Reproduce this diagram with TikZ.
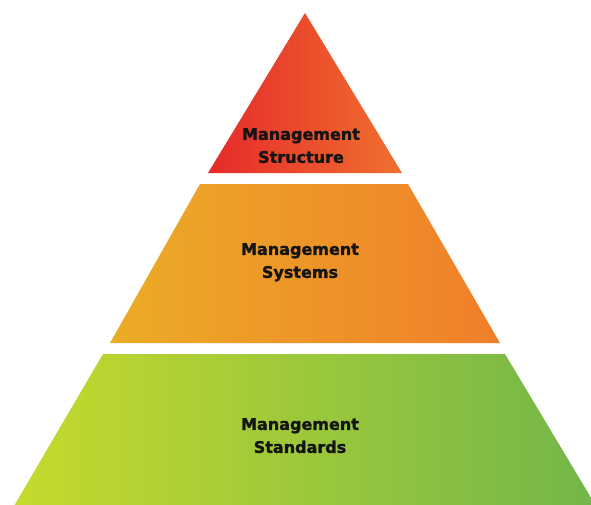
\documentclass[tikz,border=0pt]{standalone}
\usepackage{fontspec}
\setmainfont{DejaVu Sans}
\newfontfamily\lblfont[FakeBold=1.6]{DejaVu Sans Bold}
\begin{document}
\begin{tikzpicture}[x=1pt,y=-1pt,
  tier/.style={draw=none, shading=axis, shading angle=90},
  lbl/.style={font=\lblfont\fontsize{16}{23}\selectfont, text=black!92, align=center, inner sep=0pt, anchor=north}]
\useasboundingbox (0,0) rectangle (591,504);
\fill[white] (0,0) rectangle (591,504);
\begin{scope}
\clip (0,0) rectangle (591,504);
\shade[tier, left color={rgb,255:red,229;green,42;blue,42}, right color={rgb,255:red,240;green,112;blue,46}]
  (305,13) -- (402,173) -- (208,173) -- cycle;
\shade[tier, left color={rgb,255:red,235;green,172;blue,38}, right color={rgb,255:red,240;green,126;blue,42}]
  (200,184) -- (408,184) -- (500,343) -- (110,343) -- cycle;
\shade[tier, left color={rgb,255:red,198;green,218;blue,44}, right color={rgb,255:red,114;green,182;blue,74}]
  (103,354) -- (505,354) -- (596,506) -- (14,506) -- cycle;
\end{scope}
\node[lbl] (top) at (301,128) {Management\\Structure};
\node[lbl] (mid) at (300,243) {Management\\Systems};
\node[lbl] (bot) at (300,418) {Management\\Standards};
\end{tikzpicture}
\end{document}
